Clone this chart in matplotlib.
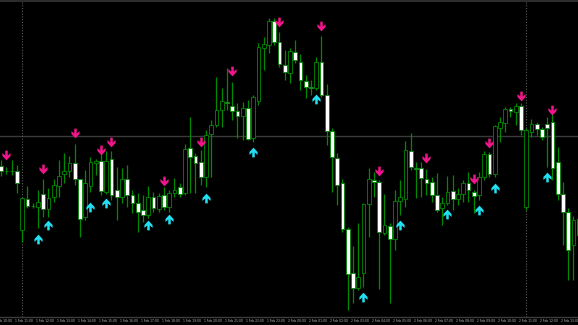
import numpy as np
import matplotlib
matplotlib.use('Agg')
import matplotlib.pyplot as plt
from matplotlib.path import Path
from matplotlib.patches import Rectangle


def to_price(rows):
    # readings were taken as screen rows of the chart; turn them into quotes
    return 1.1300 - np.asarray(rows, dtype=float) / 10000


open_ = to_price([166, 171, 171, 171, 230, 199, 206, 207, 194, 209,
                  197, 186, 174, 171, 163, 179, 217, 186, 163, 161,
                  192, 159, 190, 197, 179, 195, 203, 210, 215, 197,
                  209, 195, 207, 193, 187, 193, 148, 156, 162, 177,
                  134, 125, 110, 102, 106, 111, 116, 108, 138, 101,
                  48, 45, 21, 42, 65, 73, 52, 62, 81, 87,
                  88, 62, 95, 131, 158, 183, 229, 273, 288, 273,
                  204, 180, 182, 233, 226, 239, 201, 199, 151, 168,
                  168, 179, 182, 195, 208, 203, 191, 199, 194, 183,
                  192, 195, 177, 154, 174, 128, 123, 109, 112, 106,
                  207, 132, 124, 129, 124, 122, 162, 194, 212, 245, 219])
high = to_price([160, 167, 160, 165, 197, 186, 203, 190, 179, 188,
                 179, 160, 153, 156, 144, 179, 170, 157, 159, 153,
                 151, 151, 167, 168, 165, 190, 193, 195, 186, 192,
                 193, 187, 190, 178, 183, 144, 117, 153, 150, 130,
                 120, 77, 88, 68, 82, 103, 102, 100, 95, 43,
                 37, 18, 18, 32, 50, 48, 40, 54, 75, 80,
                 57, 36, 84, 128, 153, 179, 227, 246, 223, 203,
                 168, 172, 180, 194, 223, 190, 180, 141, 133, 162,
                 162, 169, 177, 173, 197, 176, 175, 188, 180, 172,
                 190, 172, 151, 152, 125, 117, 107, 107, 103, 103,
                 128, 119, 122, 127, 117, 112, 147, 182, 208, 216, 215])
low = to_price([176, 174, 175, 193, 242, 208, 208, 228, 217, 217,
                202, 197, 183, 177, 185, 237, 220, 192, 175, 195,
                194, 200, 220, 203, 207, 213, 232, 222, 218, 212,
                212, 210, 212, 197, 197, 195, 193, 193, 185, 187,
                177, 127, 127, 110, 120, 138, 140, 140, 142, 105,
                70, 53, 45, 67, 80, 83, 63, 90, 98, 95,
                90, 97, 145, 192, 205, 232, 310, 303, 290, 287,
                237, 197, 289, 235, 303, 250, 215, 207, 170, 198,
                197, 195, 202, 212, 225, 205, 210, 205, 202, 202,
                213, 200, 180, 177, 177, 142, 132, 117, 125, 135,
                210, 137, 135, 140, 167, 180, 200, 245, 280, 280, 240])
close = to_price([171, 171, 171, 183, 198, 206, 206, 202, 209, 198,
                  185, 176, 171, 163, 179, 219, 183, 162, 161, 191,
                  161, 195, 197, 179, 195, 203, 212, 215, 197, 208,
                  196, 207, 193, 190, 194, 149, 157, 163, 177, 135,
                  125, 110, 101, 103, 111, 116, 108, 139, 97, 47,
                  44, 21, 42, 64, 72, 51, 60, 80, 87, 88,
                  62, 95, 131, 157, 185, 229, 274, 288, 277, 204,
                  179, 182, 232, 225, 239, 201, 197, 150, 167, 169,
                  178, 183, 195, 210, 203, 192, 199, 194, 183, 190,
                  196, 177, 154, 174, 126, 122, 109, 111, 106, 130,
                  130, 124, 129, 137, 128, 168, 194, 212, 250, 220, 235])

# signal arrows: bar index and level
sell_bars = [1, 8, 14, 19, 21, 31, 38, 44, 53, 61, 72, 81, 90, 93, 99, 105]
sell_level = to_price([155, 169, 133, 150, 142, 181, 142, 71, 22, 26,
                       171, 158, 179, 143, 96, 110])
buy_bars = [7, 9, 17, 20, 28, 32, 39, 48, 60, 69, 76, 85, 91, 94, 104]
buy_level = to_price([239, 225, 207, 203, 225, 219, 198, 152, 99, 297,
                      225, 214, 210, 188, 177])

time_labels = ['1 Feb 10:00', '1 Feb 11:00', '1 Feb 12:00', '1 Feb 13:00',
               '1 Feb 14:00', '1 Feb 15:00', '1 Feb 16:00', '1 Feb 17:00',
               '1 Feb 18:00', '1 Feb 19:00', '1 Feb 20:00', '1 Feb 21:00',
               '1 Feb 22:00', '1 Feb 23:00', '2 Feb 00:00', '2 Feb 01:00',
               '2 Feb 02:00', '2 Feb 03:00', '2 Feb 04:00', '2 Feb 05:00',
               '2 Feb 06:00', '2 Feb 07:00', '2 Feb 08:00', '2 Feb 09:00',
               '2 Feb 10:00', '2 Feb 11:00', '2 Feb 12:00', '2 Feb 13:00']
label_bars = list(range(-1, 111, 4))

wick_col = '#008a00'
pink = '#ee168a'
cyan = '#22e0f2'

fig = plt.figure(figsize=(5.78, 3.25), dpi=100, facecolor='black')
ax = fig.add_axes([0, 0, 1, 1])
ax.set_facecolor('black')
ax.set_xlim(-0.238, 109.86)
ax.set_ylim(to_price(325), to_price(0))
ax.axis('off')

x = np.arange(len(open_))

# grid / separators
ax.axhline(to_price(136), color='#3a3a3a', lw=1.0, zorder=0)
for b in [4, 100]:
    ax.plot([b, b], [to_price(317), to_price(2)], color='#5a5a5a', lw=0.8,
            ls=(0, (1, 1.5)), zorder=0)
ax.axhspan(to_price(2.3), to_price(0), color='#2c2c2c', lw=0, zorder=0)
ax.axhline(to_price(317), color='#3c3c3c', lw=1.0, zorder=0)

# candles
ax.vlines(x, low, high, color=wick_col, lw=0.9, zorder=1)
w = 0.7
for i in x:
    o, c = open_[i], close[i]
    face = 'white' if c < o else 'black'
    ax.add_patch(Rectangle((i - w / 2, min(o, c)), w, abs(c - o),
                           facecolor=face, edgecolor=wick_col, lw=0.6,
                           zorder=2))

# arrow markers
down_verts = [(-0.13, 0.5), (0.13, 0.5), (0.13, 0.0), (0.42, 0.25),
              (0.42, -0.05), (0.0, -0.5), (-0.42, -0.05), (-0.42, 0.25),
              (-0.13, 0.0), (-0.13, 0.5)]
down = Path(down_verts, closed=True)
up = Path([(vx, -vy) for vx, vy in down_verts], closed=True)
ax.plot(sell_bars, sell_level, ls='none', marker=down, ms=7,
        color=pink, mec=pink, mew=0, zorder=3)
ax.plot(buy_bars, buy_level, ls='none', marker=up, ms=7,
        color=cyan, mec=cyan, mew=0, zorder=3)

# time scale
for b, lab in zip(label_bars, time_labels):
    ax.text(b - 0.3, to_price(321), lab, color='#c0c0c0', fontsize=2.2,
            ha='left', va='center')

fig.savefig('out.png', dpi=100, facecolor='black')
